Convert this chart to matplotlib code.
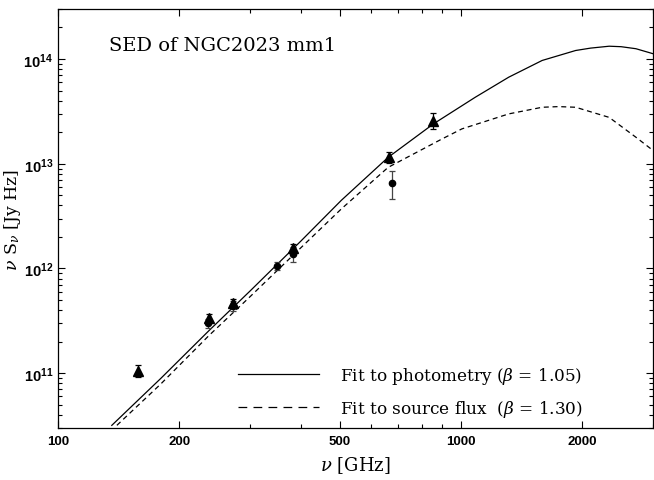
import numpy as np
import matplotlib
matplotlib.use('Agg')
import matplotlib.pyplot as plt
from matplotlib.lines import Line2D
from matplotlib.ticker import FixedLocator, NullFormatter, LogLocator

plt.rcParams['font.family'] = 'Liberation Sans'
plt.rcParams['mathtext.fontset'] = 'dejavuserif'

# photometry points (triangles)
tri_nu = [158, 237, 272, 384, 664, 852]
tri_flux = [1.06e11, 3.34e11, 4.65e11, 1.58e12, 1.15e13, 2.58e13]
tri_err = [1.3e10, 3.2e10, 5.0e10, 1.4e11, 1.3e12, 4.4e12]

# source flux points (circles)
circ_nu = [236, 272, 349, 384, 673]
circ_flux = [2.99e11, 4.4e11, 1.06e12, 1.37e12, 6.6e12]
circ_err = [2.8e10, 4.5e10, 1.0e11, 2.2e11, 2.0e12]

# fitted curves
fit1_nu = [136, 180, 237, 301, 401, 505, 660, 855, 1086, 1315, 1592, 1928,
           2100, 2335, 2500, 2721, 3046]
fit1_flux = [3.18e10, 8.93e10, 2.55e11, 6.19e11, 1.83e12, 4.47e12, 1.15e13,
             2.40e13, 4.31e13, 6.70e13, 9.68e13, 1.205e14, 1.27e14, 1.324e14,
             1.31e14, 1.253e14, 1.104e14]
fit2_nu = [140, 180, 237, 301, 401, 505, 660, 897, 1006, 1315, 1592, 1750,
           1928, 2335, 2721, 3046]
fit2_flux = [3.18e10, 7.9e10, 2.29e11, 5.46e11, 1.58e12, 3.7e12, 9.23e12,
             1.72e13, 2.15e13, 2.99e13, 3.46e13, 3.51e13, 3.46e13, 2.77e13,
             1.79e13, 1.28e13]

xticks = [100, 200, 500, 1000, 2000]
labels = [r'Fit to photometry ($\beta$ = 1.05)',
          r'Fit to source flux  ($\beta$ = 1.30)']

serif = 'DejaVu Serif'

fig = plt.figure(figsize=(6.54, 4.81), dpi=100)
ax = fig.add_axes([58/654, 1-429/481, 595/654, 419/481])

ax.plot(fit1_nu, fit1_flux, '-k', lw=0.9)
ax.plot(fit2_nu, fit2_flux, '--k', lw=0.9, dashes=(4, 3))

ax.errorbar(tri_nu, tri_flux, yerr=tri_err, fmt='^k', ms=6.5, capsize=2.2,
            elinewidth=0.9, capthick=0.9, ecolor='k')
ax.errorbar(circ_nu, circ_flux, yerr=circ_err, fmt='ok', ms=4.5, capsize=2.2,
            elinewidth=0.9, capthick=0.9, ecolor='#444444')

ax.set_xscale('log')
ax.set_yscale('log')
ax.set_xlim(100, 3000)
ax.set_ylim(3e10, 3e14)

ax.xaxis.set_major_locator(FixedLocator(xticks))
ax.set_xticklabels([str(t) for t in xticks])
ax.xaxis.set_minor_locator(FixedLocator([300, 400, 600, 700, 800, 900, 3000]))
ax.xaxis.set_minor_formatter(NullFormatter())
ax.yaxis.set_minor_locator(LogLocator(base=10, subs=np.arange(2, 10)))
ax.yaxis.set_minor_formatter(NullFormatter())

ax.tick_params(which='both', direction='in', top=True, right=True, width=0.8)
ax.tick_params(which='major', length=5)
ax.tick_params(which='minor', length=2.8)
ax.tick_params(axis='x', which='major', pad=5, labelsize=9.5)
ax.tick_params(axis='y', which='major', pad=3.5, labelsize=10.5)
fig.canvas.draw()
for lab in ax.get_xticklabels() + ax.get_yticklabels():
    lab.set_fontweight('bold')
for sp in ax.spines.values():
    sp.set_linewidth(0.9)

ax.set_xlabel(r'$\nu$ [GHz]', fontsize=13, family=serif, labelpad=5)
ax.set_ylabel(r'$\nu\ \mathregular{S}_{\nu}$ [Jy Hz]', fontsize=12.5,
              family=serif)
ax.yaxis.set_label_coords(-0.059, 0.5)

ax.text(0.085, 0.915, 'SED of NGC2023 mm1', transform=ax.transAxes,
        fontsize=14, family=serif, va='center')

handles = [Line2D([], [], color='k', lw=0.9),
           Line2D([], [], color='k', lw=0.9, ls='--', dashes=(7, 5))]
leg = ax.legend(handles, labels, loc='center left',
                bbox_to_anchor=(0.3025, 0.086), frameon=False, borderpad=0,
                borderaxespad=0, handlelength=4.8, handletextpad=1.2,
                labelspacing=0.7, prop={'family': serif, 'size': 12.2})

fig.savefig('out.png', dpi=100)
